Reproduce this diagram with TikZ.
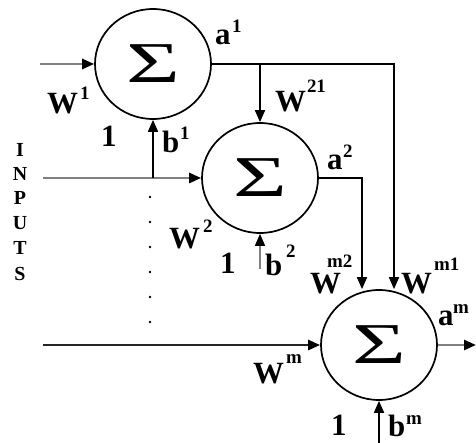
\documentclass[tikz,border=0pt]{standalone}
\usepackage{fontspec}
\setmainfont{Liberation Serif}
\usetikzlibrary{arrows.meta,shapes.geometric}
\newcommand\mainfs{\fontsize{31}{32}\selectfont\bfseries}
\newcommand\supfs{\fontsize{19}{21}\selectfont\bfseries}
\newcommand\inpfs{\fontsize{20}{22}\selectfont\bfseries}
\newcommand\lbl[4]{\rlap{\mainfs #1}\kern#3bp\raisebox{#4bp}{\supfs #2}}
\newcommand\sig{\scalebox{1.6}[1]{\fontsize{58}{60}\selectfont Σ}}
\begin{document}
\begin{tikzpicture}[x=1bp,y=-1bp,
  neuron/.style={ellipse, draw, line width=1.7bp, minimum width=116bp, minimum height=110bp, inner sep=0pt},
  lab/.style={anchor=base west, inner sep=0pt, outer sep=0pt, font=\mainfs},
  inp/.style={inner sep=0pt, font=\inpfs},
  tip/.style={-{Triangle[length=12bp,width=10bp,color=black]}},
  blk/.style={tip, line width=1.7bp},
  gry/.style={tip, draw=gray, line width=2.6bp},
  gryt/.style={tip, draw=gray, line width=1.6bp},
  drk/.style={tip, draw=black!85, line width=2.6bp}]
\useasboundingbox (0,0) rectangle (476,443);
% neurons
\node[neuron] (n1) at (153,64) {\sig};
\node[neuron] (n2) at (260,178) {\sig};
\node[neuron] (n3) at (379,345) {\sig};
% coordinates
\coordinate (i1) at (40,64);
\coordinate (i2) at (43,178);
\coordinate (im) at (43,345);
\coordinate (b1s) at (153,178);
\coordinate (c21) at (260,64);
\coordinate (c1) at (394,64);
\coordinate (c2) at (362,178);
\coordinate (om) at (476,345);
\coordinate (b2s) at (260,269);
\coordinate (bms) at (379,443);
% connectors
\draw[gry] (i1) -- (n1.west);
\draw[gry] (i2) -- (n2.west);
\draw[drk] (im) -- (n3.west);
\draw[blk] (b1s) -- (n1.south);
\draw[blk] (n1.east) -- (c1) -- (c1 |- n3.north);
\draw[blk] (c21) -- (n2.north);
\draw[blk] (n2.east) -- (c2) -- (c2 |- n3.north);
\draw[gry] (n3.east) -- (om);
\draw[gryt] (b2s) -- (n2.south);
\draw[blk] (bms) -- (n3.south);
% dots
\foreach \y in {197,222,...,322} \fill (150,\y) circle (1.3bp);
% INPUTS
\node[inp] (in1) at (20,150) {I};
\node[inp] (in2) at (20,174) {N};
\node[inp] (in3) at (20,198) {P};
\node[inp] (in4) at (20,223) {U};
\node[inp] (in5) at (20,248) {T};
\node[inp] (in6) at (20,274) {S};
% labels
\node[lab] (la1) at (215,45) {\lbl{a}{1}{17}{12}};
\node[lab] (lw1) at (47,114) {\lbl{W}{1}{33}{14}};
\node[lab] (lo1) at (101,147) {1};
\node[lab] (lb1) at (162,153) {\lbl{b}{1}{18}{13}};
\node[lab] (lw21) at (275,112) {\lbl{W}{21}{32}{19}};
\node[lab] (la2) at (327,170) {\lbl{a}{2}{16}{12}};
\node[lab] (lw2) at (169,248) {\lbl{W}{2}{34}{15}};
\node[lab] (lo2) at (220,273) {1};
\node[lab] (lb2) at (265,275) {\lbl{b}{2}{21}{18}};
\node[lab] (lwm2) at (310,293) {\lbl{W}{m2}{17}{26}};
\node[lab] (lwm1) at (401,293) {\lbl{W}{m1}{33}{23}};
\node[lab] (lam) at (438,325) {\lbl{a}{m}{15}{12}};
\node[lab] (lwm) at (253,383) {\lbl{W}{m}{33}{20}};
\node[lab] (lo3) at (331,435) {1};
\node[lab] (lbm) at (388,436) {\lbl{b}{m}{18}{12}};
\end{tikzpicture}
\end{document}
